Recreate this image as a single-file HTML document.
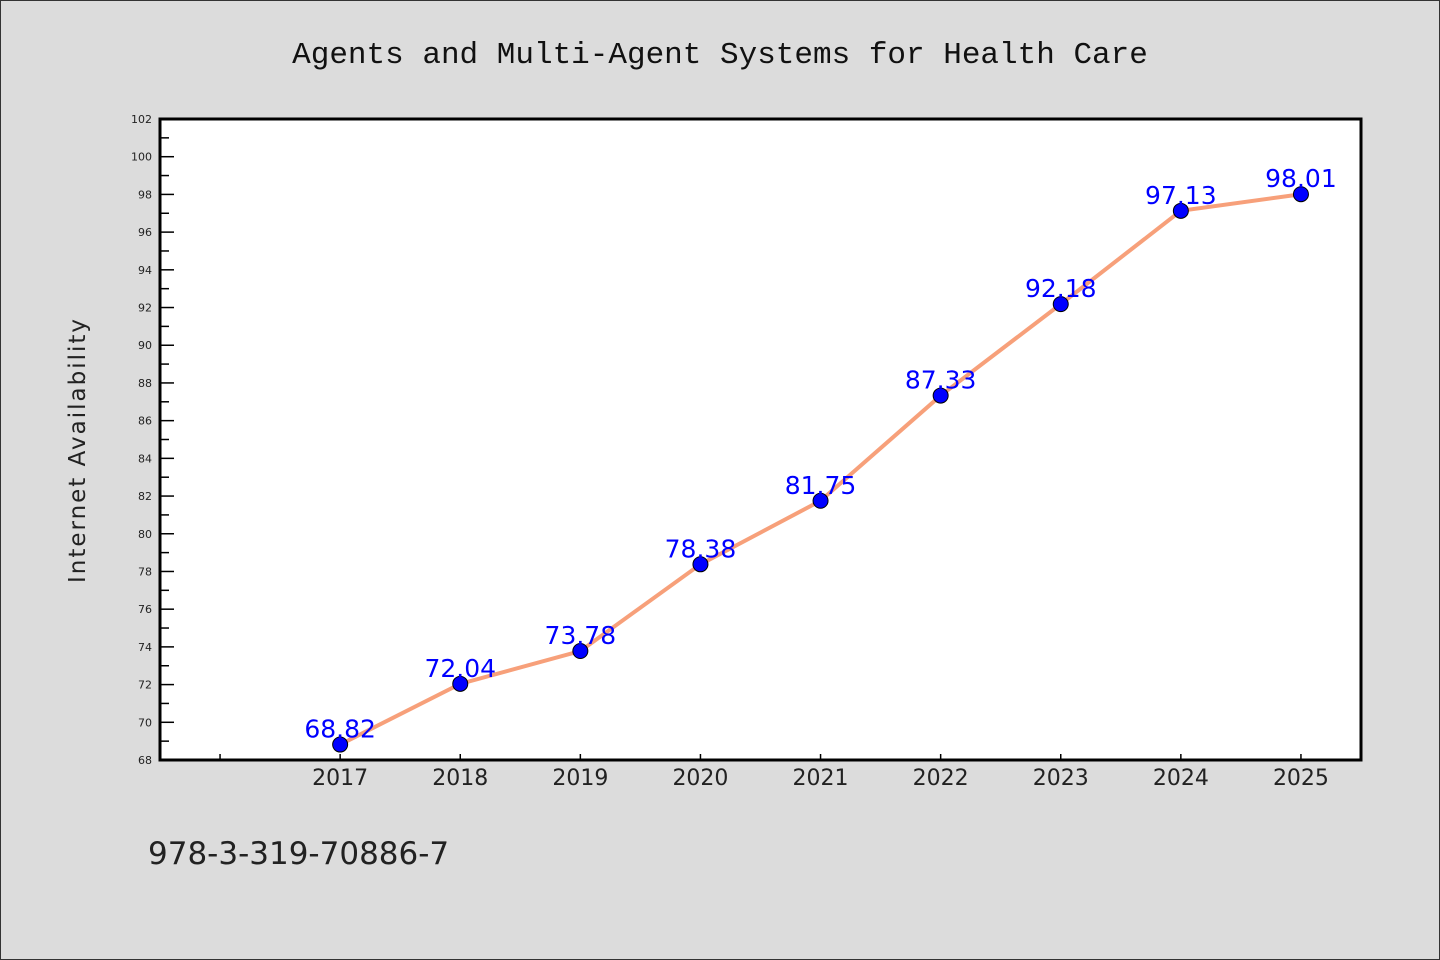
<!DOCTYPE html>
<html><head><meta charset="utf-8"><style>
html,body{margin:0;padding:0;background:#dcdcdc;}
svg{display:block;}
text{font-family:"DejaVu Sans","Liberation Sans",sans-serif;}
</style></head><body>
<svg id="chart" width="1440" height="960" xmlns="http://www.w3.org/2000/svg">
<rect x="0.5" y="0.5" width="1439" height="959" fill="#dcdcdc" stroke="#333" stroke-width="1"/>
<text x="720" y="63" text-anchor="middle" font-size="31" fill="#111" style="font-family:'Liberation Mono',monospace">Agents and Multi-Agent Systems for Health Care</text>
<rect x="160" y="119" width="1201" height="641" fill="#fff"/>
<g id="axes"></g>
<g id="series"></g>
<rect x="160" y="119" width="1201" height="641" fill="none" stroke="#000" stroke-width="3"/>
<text transform="translate(85,450) rotate(-90)" text-anchor="middle" font-size="23" fill="#222" style="letter-spacing:2px">Internet Availability</text>
<text x="148" y="864" font-size="31" fill="#222">978-3-319-70886-7</text>
</svg>
<script>
const years = [2017,2018,2019,2020,2021,2022,2023,2024,2025];
const values = [68.82,72.04,73.78,78.38,81.75,87.33,92.18,97.13,98.01];
const yTicks = [68,70,72,74,76,78,80,82,84,86,88,90,92,94,96,98,100,102];
const NS='http://www.w3.org/2000/svg';
const L=160,R=1361,T=119,B=760;
const yMin=68,yMax=102,xMin=2015.5,xMax=2025.5;
const xs=v=>L+(v-xMin)/(xMax-xMin)*(R-L);
const ys=v=>B-(v-yMin)/(yMax-yMin)*(B-T);
const axes=document.getElementById('axes'),series=document.getElementById('series');
function mk(tag,attrs,parent){const e=document.createElementNS(NS,tag);for(const k in attrs)e.setAttribute(k,attrs[k]);parent.appendChild(e);return e;}
yTicks.forEach(t=>{
  const y=ys(t);
  const tk=mk('line',{x1:L,x2:L+14,y1:y,y2:y,stroke:'#000','stroke-width':1.5},axes);
  
  
  const lb=mk('text',{x:L-8,y:y+4,'text-anchor':'end','font-size':11,fill:'#222'},axes);
  lb.textContent=t;
  
  
  if(t<yMax){const ym=ys(t+1);
    const mn=mk('line',{x1:L,x2:L+9,y1:ym,y2:ym,stroke:'#000','stroke-width':1.5},axes);
    
    }
});
[2016].concat(years).forEach(yr=>{
  const x=xs(yr);
  const tk=mk('line',{x1:x,x2:x,y1:B,y2:B-6,stroke:'#000','stroke-width':1.5},axes);
  
  
});
years.forEach(yr=>{
  const lb=mk('text',{x:xs(yr),y:785,'text-anchor':'middle','font-size':22,fill:'#222'},axes);
  lb.textContent=yr;
  
  
});
const pts=years.map((y,i)=>xs(y)+','+ys(values[i])).join(' ');
const line=mk('polyline',{points:pts,fill:'none',stroke:'#f7a07a','stroke-width':4},series);


years.forEach((yr,i)=>{
  const c=mk('circle',{cx:xs(yr),cy:ys(values[i]),r:7.5,fill:'#0000ff',stroke:'#000','stroke-width':1},series);
  
  
  const t=mk('text',{x:xs(yr),y:ys(values[i])-7,'text-anchor':'middle','font-size':25,fill:'#0000ff'},series);
  t.textContent=values[i].toFixed(2);
  
  
});
</script>
</body></html>
